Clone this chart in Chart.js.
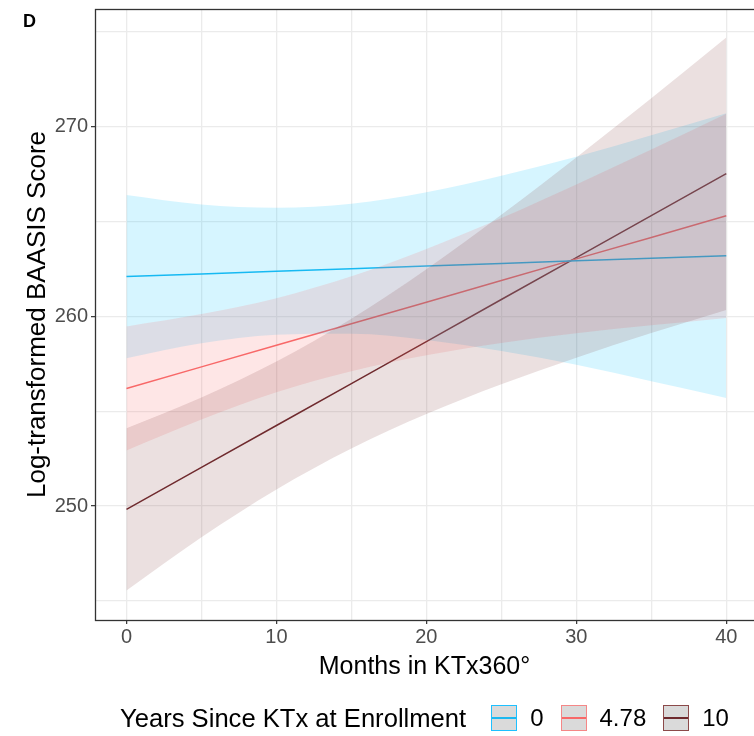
<!DOCTYPE html>
<html>
<head>
<meta charset="utf-8">
<script src="https://cdn.jsdelivr.net/npm/chart.js@4.4.1/dist/chart.umd.min.js"></script>
<style>
    html, body { margin: 0; padding: 0; background: #fff; overflow: hidden; }
    #wrap { position: relative; width: 754px; height: 736px; font-family: "Liberation Sans", Arial, sans-serif; }
    #tag { position: absolute; left: 23px; top: 11px; font-size: 18px; font-weight: bold; color: #000; }
    #legend { position: absolute; left: 120px; top: 704px; height: 28px; display: flex; align-items: center; color: #000; }
    #legend .title { font-size: 25.6px; margin-right: 25px; }
    #legend .key { position: relative; width: 24px; height: 24px; border: 1px solid; background: #dadada; margin-right: 13px; }
    #legend .key span { position: absolute; left: 0; right: 0; top: 11px; height: 1.5px; }
    #legend .lab { font-size: 24px; margin-right: 17px; }
</style>
</head>
<body>
<div id="wrap">
    <canvas id="chart" width="754" height="736"></canvas>
    <div id="tag">D</div>
    <div id="legend"><span class="title">Years Since KTx at Enrollment</span></div>
</div>
<script>
// Months in KTx360 (x positions of the fitted values)
const months = [0, 5, 10, 15, 20, 25, 30, 35, 40];

// group 0 years
const fit0   = [262.10, 262.24, 262.38, 262.51, 262.65, 262.79, 262.93, 263.06, 263.20];
const upper0 = [266.40, 265.90, 265.73, 265.94, 266.54, 267.41, 268.41, 269.54, 270.70];
const lower0 = [257.80, 258.58, 259.03, 259.08, 258.76, 258.17, 257.45, 256.58, 255.70];

// group 4.78 years
const fit478   = [256.20, 257.34, 258.48, 259.61, 260.75, 261.89, 263.03, 264.16, 265.30];
const upper478 = [259.47, 260.12, 260.96, 262.11, 263.55, 265.18, 266.95, 268.79, 270.68];
const lower478 = [252.93, 254.56, 256.00, 257.11, 257.95, 258.60, 259.11, 259.53, 259.92];

// group 10 years
const fit10   = [249.83, 252.04, 254.25, 256.46, 258.67, 260.89, 263.10, 265.31, 267.52];
const upper10 = [254.10, 255.72, 257.62, 259.88, 262.49, 265.36, 268.38, 271.50, 274.70];
const lower10 = [245.56, 248.36, 250.88, 253.04, 254.85, 256.42, 257.82, 259.12, 260.34];

const groupLabels = ['0', '4.78', '10'];
const xTicks = [0, 5, 10, 15, 20, 25, 30, 35, 40];
const yTicks = [245, 250, 255, 260, 265, 270, 275];

const lineColors = ['#1cb8f0', '#f86868', '#6e2a2e'];
const fillColors = ['rgba(0,191,255,0.16)', 'rgba(248,104,104,0.17)', 'rgba(120,45,50,0.15)'];
const keyBorders = ['#1ec0ff', '#f58787', '#8c4a4a'];

const fits = [fit0, fit478, fit10];
const uppers = [upper0, upper478, upper10];
const lowers = [lower0, lower478, lower10];

function pts(arr) {
    return months.map((m, i) => ({ x: m, y: arr[i] }));
}

const datasets = [];
// ribbons on top of lines, last group drawn last
for (let g = 2; g >= 0; g--) {
    datasets.push({
        label: 'upper ' + groupLabels[g],
        data: pts(uppers[g]),
        borderWidth: 0,
        pointRadius: 0,
        backgroundColor: fillColors[g],
        fill: '+1',
        cubicInterpolationMode: 'monotone',
        order: 1
    });
    datasets.push({
        label: 'lower ' + groupLabels[g],
        data: pts(lowers[g]),
        borderWidth: 0,
        pointRadius: 0,
        fill: false,
        cubicInterpolationMode: 'monotone',
        order: 1
    });
}
for (let g = 0; g < 3; g++) {
    datasets.push({
        label: groupLabels[g],
        data: pts(fits[g]),
        borderColor: lineColors[g],
        borderWidth: 1.5,
        pointRadius: 0,
        fill: false,
        order: 2
    });
}

// panel border like theme_bw
const panelBorder = {
    id: 'panelBorder',
    afterDraw(chart) {
        const a = chart.chartArea;
        const ctx = chart.ctx;
        ctx.save();
        ctx.strokeStyle = '#333';
        ctx.lineWidth = 1.3;
        ctx.strokeRect(a.left + 0.5, a.top + 0.5, a.right - a.left + 10, a.bottom - a.top);
        ctx.restore();
    }
};

Chart.defaults.font.family = '"Liberation Sans", Arial, sans-serif';

new Chart(document.getElementById('chart'), {
    type: 'line',
    data: { datasets: datasets },
    options: {
        responsive: false,
        animation: false,
        layout: { padding: { top: 9, right: 0, bottom: 54, left: 0 } },
        plugins: {
            legend: { display: false },
            tooltip: { enabled: false }
        },
        scales: {
            x: {
                type: 'linear',
                min: -2.1,
                max: 41.85,
                afterBuildTicks: s => { s.ticks = xTicks.map(v => ({ value: v })); },
                afterFit: s => { s.height = 62; s.paddingLeft = 0; s.paddingRight = 0; },
                border: { display: false },
                grid: {
                    color: '#ebebeb',
                    lineWidth: 1.3,
                    tickLength: 4,
                    tickWidth: 1.2,
                    tickColor: c => (c.tick && c.tick.value % 10 === 0) ? '#333' : 'rgba(0,0,0,0)'
                },
                ticks: {
                    color: '#4d4d4d',
                    font: { size: 20 },
                    padding: 1,
                    maxRotation: 0,
                    autoSkip: false,
                    callback: v => v % 10 === 0 ? String(v) : ''
                },
                title: {
                    display: true,
                    text: 'Months in KTx360°',
                    color: '#000',
                    font: { size: 25 },
                    padding: { top: 0, bottom: 0 }
                }
            },
            y: {
                type: 'linear',
                min: 244.0,
                max: 276.2,
                afterBuildTicks: s => { s.ticks = yTicks.map(v => ({ value: v })); },
                afterFit: s => { s.width = 95; s.paddingTop = 0; s.paddingBottom = 0; },
                border: { display: false },
                grid: {
                    color: '#ebebeb',
                    lineWidth: 1.3,
                    tickLength: 4,
                    tickWidth: 1.2,
                    tickColor: c => (c.tick && c.tick.value % 10 === 0) ? '#333' : 'rgba(0,0,0,0)'
                },
                ticks: {
                    color: '#4d4d4d',
                    font: { size: 20 },
                    padding: 3,
                    autoSkip: false,
                    callback: v => v % 10 === 0 ? String(v) : ''
                },
                title: {
                    display: true,
                    text: 'Log-transformed BAASIS Score',
                    color: '#000',
                    font: { size: 26 },
                    padding: { top: 22, bottom: 0 }
                }
            }
        }
    },
    plugins: [panelBorder]
});

// legend keys
const legend = document.getElementById('legend');
groupLabels.forEach((lab, g) => {
    const key = document.createElement('div');
    key.className = 'key';
    key.style.borderColor = keyBorders[g];
    const ln = document.createElement('span');
    ln.style.background = lineColors[g];
    key.appendChild(ln);
    legend.appendChild(key);
    const t = document.createElement('span');
    t.className = 'lab';
    t.textContent = lab;
    legend.appendChild(t);
});
</script>
</body>
</html>
